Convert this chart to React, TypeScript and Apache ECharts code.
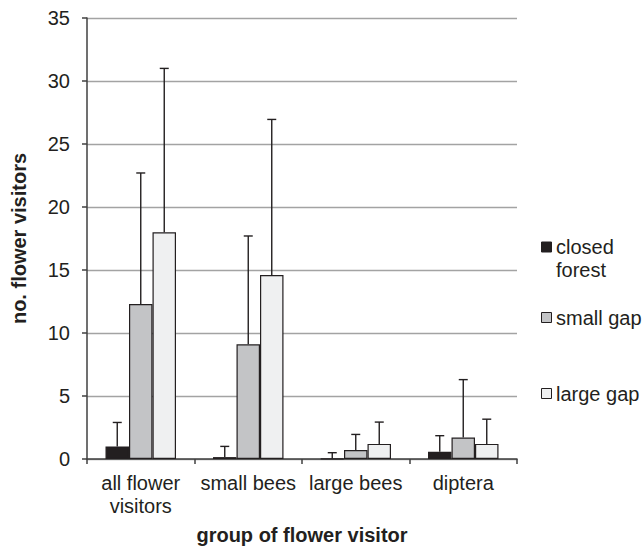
import React, { useEffect, useRef } from "react";
import * as echarts from "echarts";

const categories = ["all flower\nvisitors", "small bees", "large bees", "diptera"];
const seriesNames = ["closed forest", "small gap", "large gap"];
const legendLabels = ["closed\nforest", "small gap", "large gap"];
const closedForest = [1.0, 0.15, 0.03, 0.57];
const closedForestSd = [1.9, 0.85, 0.47, 1.28];
const smallGap = [12.3, 9.1, 0.72, 1.7];
const smallGapSd = [10.4, 8.6, 1.23, 4.6];
const largeGap = [18.0, 14.6, 1.2, 1.2];
const largeGapSd = [13.0, 12.35, 1.73, 1.96];
const yTicks = [0, 5, 10, 15, 20, 25, 30, 35];

const colors = ["#231f20", "#c3c4c6", "#eff0f1"];
const FONT = "Liberation Sans, Arial, sans-serif";
const BAR_W = 23.5;

export default function App() {
  const ref = useRef<HTMLDivElement>(null);
  useEffect(() => {
    if (!ref.current) return;
    const chart = echarts.init(ref.current, null, { renderer: "svg" });
    const means = [closedForest, smallGap, largeGap];
    const sds = [closedForestSd, smallGapSd, largeGapSd];

    const barSeries = means.map((vals, i) => ({
      type: "bar",
      name: seriesNames[i],
      data: vals,
      barWidth: BAR_W,
      barGap: "0%",
      itemStyle: { color: colors[i], borderColor: "#231f20", borderWidth: 1.2 },
    }));

    const errSeries = means.map((vals, i) => ({
      type: "custom",
      name: seriesNames[i] + " sd",
      z: 5,
      data: vals.map((v, k) => [k, v, sds[i][k]]),
      renderItem: (params: any, api: any) => {
        const c = api.value(0);
        const m = api.value(1);
        const s = api.value(2);
        const p0 = api.coord([c, m]);
        const p1 = api.coord([c, m + s]);
        const x = p0[0] + (i - 1) * BAR_W;
        const style = { stroke: "#231f20", lineWidth: 1.4 };
        return {
          type: "group",
          children: [
            { type: "line", shape: { x1: x, y1: p0[1], x2: x, y2: p1[1] }, style },
            { type: "line", shape: { x1: x - 4.5, y1: p1[1], x2: x + 4.5, y2: p1[1] }, style },
          ],
        };
      },
    }));

    const legendTops = [247, 317.5, 393.5];
    const graphic: any[] = [];
    legendLabels.forEach((lab, i) => {
      graphic.push({
        type: "rect",
        left: 541,
        top: legendTops[i] - 5.5,
        shape: { width: 10, height: 10 },
        style: { fill: colors[i], stroke: "#231f20", lineWidth: 1 },
      });
      graphic.push({
        type: "text",
        x: 556,
        y: legendTops[i] - 11.5,
        style: {
          text: lab,
          font: `20px ${FONT}`,
          lineHeight: 23,
          fill: "#231f20",
          verticalAlign: "top",
        },
      });
    });

    chart.setOption({
      animation: false,
      textStyle: { fontFamily: FONT },
      grid: { left: 87, right: 126, top: 18, bottom: 86 },
      xAxis: {
        type: "category",
        data: categories,
        name: "group of flower visitor",
        nameLocation: "middle",
        nameGap: 66,
        nameTextStyle: { fontSize: 20, fontWeight: "bold", color: "#231f20", fontFamily: FONT },
        axisLine: { lineStyle: { color: "#404040", width: 1.5 } },
        axisTick: { show: true, length: 5, lineStyle: { color: "#404040", width: 1.5 } },
        axisLabel: { interval: 0, fontSize: 20, lineHeight: 23, margin: 12.5, color: "#231f20", fontFamily: FONT },
      },
      yAxis: {
        type: "value",
        min: yTicks[0],
        max: yTicks[yTicks.length - 1],
        interval: 5,
        name: "no. flower visitors",
        nameLocation: "middle",
        nameGap: 58.5,
        nameTextStyle: { fontSize: 20, fontWeight: "bold", color: "#231f20", fontFamily: FONT },
        axisLine: { show: true, lineStyle: { color: "#404040", width: 1.5 } },
        axisTick: { show: true, length: 5, lineStyle: { color: "#404040", width: 1.5 } },
        axisLabel: { fontSize: 20, margin: 17, color: "#231f20", fontFamily: FONT },
        splitLine: { lineStyle: { color: "#a3a3a3", width: 1.3 } },
      },
      series: [...barSeries, ...errSeries],
      graphic,
    });
    return () => chart.dispose();
  }, []);
  return <div ref={ref} style={{ width: 643, height: 550, position: "absolute", left: 0, top: 0 }} />;
}
